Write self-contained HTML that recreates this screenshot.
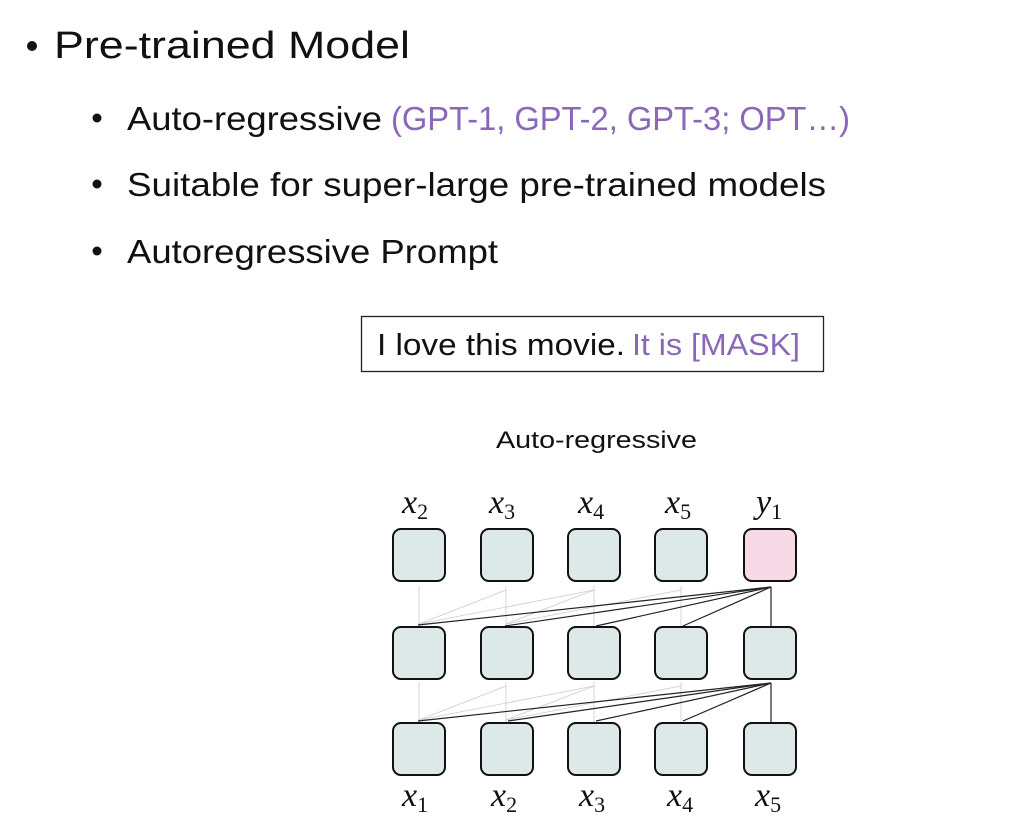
<!DOCTYPE html>
<html><head><meta charset="utf-8"><style>
html,body{margin:0;padding:0;background:#fff;}
svg{display:block}
</style></head><body>
<svg width="1012" height="826" viewBox="0 0 1012 826" xmlns="http://www.w3.org/2000/svg" font-family="Liberation Sans, sans-serif">
<rect width="1012" height="826" fill="#fff"/>
<circle cx="32" cy="46" r="5" fill="#111"/>
<text x="54" y="58" font-size="38" fill="#111" textLength="356" lengthAdjust="spacingAndGlyphs">Pre-trained Model</text>
<circle cx="97" cy="118" r="4.5" fill="#111"/>
<text x="127" y="130" font-size="33" fill="#111" textLength="255" lengthAdjust="spacingAndGlyphs">Auto-regressive</text>
<text x="391" y="130" font-size="33" fill="#8a67b8" textLength="459" lengthAdjust="spacingAndGlyphs">(GPT-1, GPT-2, GPT-3; OPT…)</text>
<circle cx="97" cy="184" r="4.5" fill="#111"/>
<text x="127" y="196" font-size="33" fill="#111" textLength="699" lengthAdjust="spacingAndGlyphs">Suitable for super-large pre-trained models</text>
<circle cx="97" cy="251" r="4.5" fill="#111"/>
<text x="127" y="263" font-size="33" fill="#111" textLength="371" lengthAdjust="spacingAndGlyphs">Autoregressive Prompt</text>
<rect x="361.5" y="316.5" width="462" height="55" fill="#fff" stroke="#222" stroke-width="1.3"/>
<text x="377" y="355" font-size="31" fill="#111" textLength="248" lengthAdjust="spacingAndGlyphs">I love this movie.</text>
<text x="632" y="355" font-size="31" fill="#8a67b8" textLength="168" lengthAdjust="spacingAndGlyphs">It is [MASK]</text>
<text x="496" y="448" font-size="24" fill="#111" textLength="201" lengthAdjust="spacingAndGlyphs">Auto-regressive</text>
<g stroke="#ccc" stroke-width="0.8" fill="none">
<line x1="419" y1="586" x2="419" y2="626"/><line x1="506" y1="586" x2="506" y2="626"/>
<line x1="594" y1="586" x2="594" y2="626"/><line x1="681" y1="586" x2="681" y2="626"/>
<line x1="419" y1="624" x2="506" y2="590"/><line x1="506" y1="624" x2="594" y2="590"/><line x1="419" y1="624" x2="594" y2="590"/><line x1="506" y1="624" x2="681" y2="590"/>
<line x1="419" y1="682" x2="419" y2="722"/><line x1="506" y1="682" x2="506" y2="722"/>
<line x1="594" y1="682" x2="594" y2="722"/><line x1="681" y1="682" x2="681" y2="722"/>
<line x1="419" y1="720" x2="506" y2="686"/><line x1="506" y1="720" x2="594" y2="686"/><line x1="419" y1="720" x2="594" y2="686"/><line x1="506" y1="720" x2="681" y2="686"/>
</g>
<g stroke="#222" stroke-width="1.2" fill="none">
<line x1="771" y1="587" x2="418" y2="625"/><line x1="771" y1="587" x2="505" y2="626"/>
<line x1="771" y1="587" x2="596" y2="626"/><line x1="771" y1="587" x2="683" y2="626"/>
<line x1="771" y1="587" x2="771" y2="627"/>
<line x1="771" y1="683" x2="418" y2="721"/><line x1="771" y1="683" x2="508" y2="721"/>
<line x1="771" y1="683" x2="596" y2="721"/><line x1="771" y1="683" x2="683" y2="721"/>
<line x1="771" y1="683" x2="771" y2="723"/>
</g>
<g stroke="#111" stroke-width="2" fill="#dde9e8">
<rect x="393" y="529" width="52" height="52" rx="8"/><rect x="481" y="529" width="52" height="52" rx="8"/><rect x="568" y="529" width="52" height="52" rx="8"/><rect x="655" y="529" width="52" height="52" rx="8"/>
<rect x="744" y="529" width="52" height="52" rx="8" fill="#f6dbe6"/>
<rect x="393" y="627" width="52" height="52" rx="8"/><rect x="481" y="627" width="52" height="52" rx="8"/><rect x="568" y="627" width="52" height="52" rx="8"/><rect x="655" y="627" width="52" height="52" rx="8"/><rect x="744" y="627" width="52" height="52" rx="8"/>
<rect x="393" y="723" width="52" height="52" rx="8"/><rect x="481" y="723" width="52" height="52" rx="8"/><rect x="568" y="723" width="52" height="52" rx="8"/><rect x="655" y="723" width="52" height="52" rx="8"/><rect x="744" y="723" width="52" height="52" rx="8"/>
</g>
<g font-family="Liberation Serif, serif" fill="#111" font-size="34">
<text x="402" y="513"><tspan font-style="italic">x</tspan><tspan font-size="22" dy="6">2</tspan></text>
<text x="489" y="513"><tspan font-style="italic">x</tspan><tspan font-size="22" dy="6">3</tspan></text>
<text x="578" y="513"><tspan font-style="italic">x</tspan><tspan font-size="22" dy="6">4</tspan></text>
<text x="665" y="513"><tspan font-style="italic">x</tspan><tspan font-size="22" dy="6">5</tspan></text>
<text x="756" y="513"><tspan font-style="italic">y</tspan><tspan font-size="22" dy="6">1</tspan></text>
<text x="402" y="806"><tspan font-style="italic">x</tspan><tspan font-size="22" dy="6">1</tspan></text>
<text x="491" y="806"><tspan font-style="italic">x</tspan><tspan font-size="22" dy="6">2</tspan></text>
<text x="579" y="806"><tspan font-style="italic">x</tspan><tspan font-size="22" dy="6">3</tspan></text>
<text x="667" y="806"><tspan font-style="italic">x</tspan><tspan font-size="22" dy="6">4</tspan></text>
<text x="755" y="806"><tspan font-style="italic">x</tspan><tspan font-size="22" dy="6">5</tspan></text>
</g>
</svg>
</body></html>
